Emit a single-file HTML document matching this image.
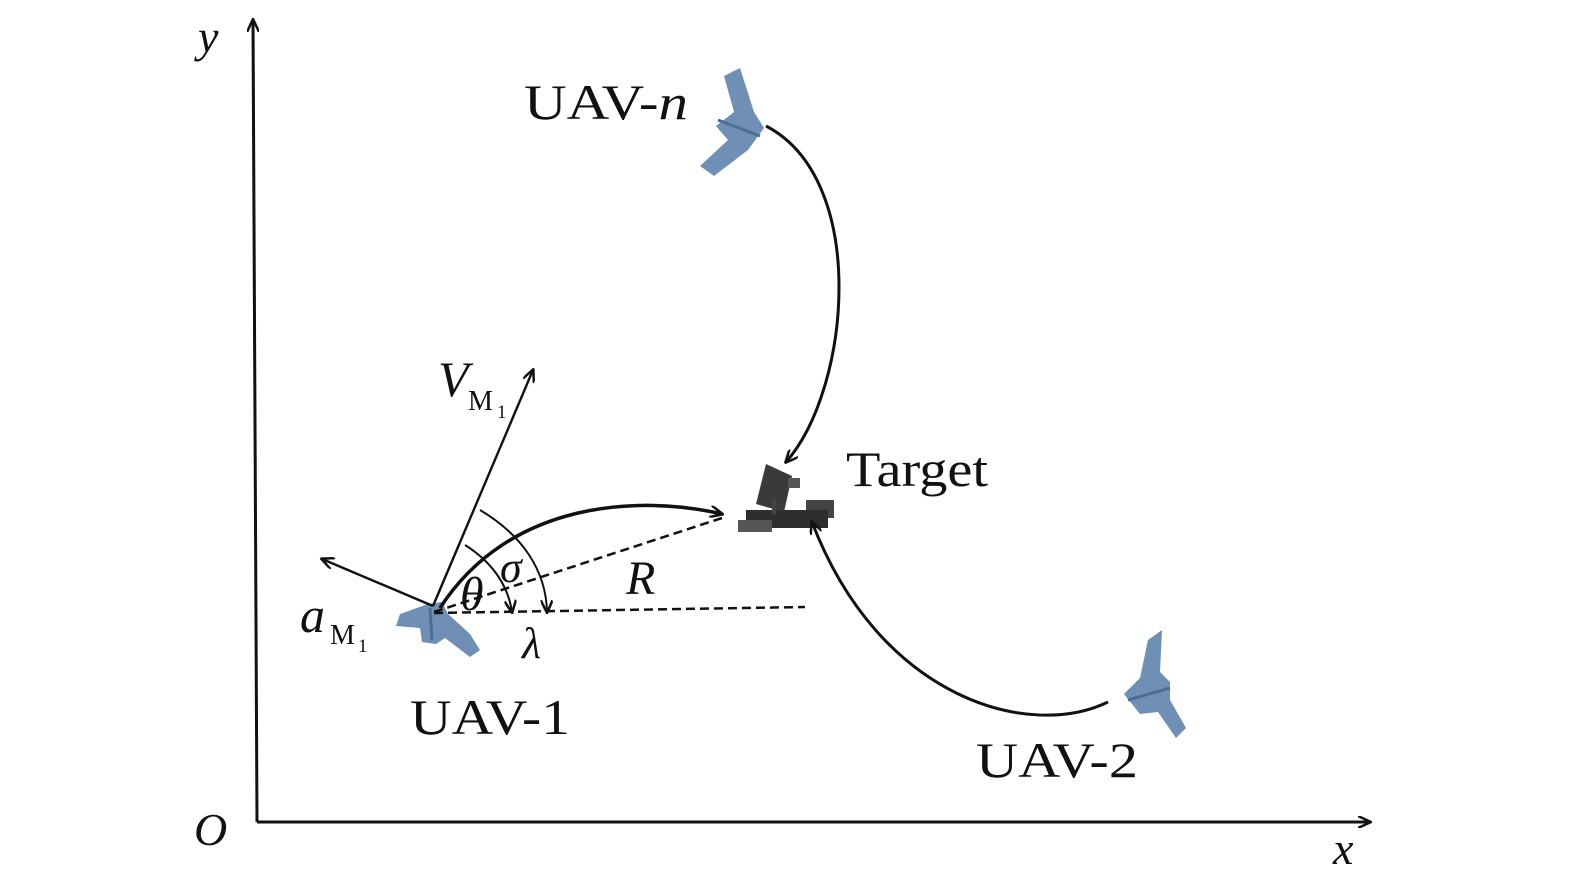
<!DOCTYPE html>
<html><head><meta charset="utf-8"><style>
html,body{margin:0;padding:0;background:#fff;}
svg{display:block;}
text{font-family:"Liberation Serif",serif;fill:#111;}
.i{font-style:italic;}
</style></head><body>
<svg width="1575" height="886" viewBox="0 0 1575 886" xmlns="http://www.w3.org/2000/svg">
<defs>
<marker id="ah" markerWidth="14" markerHeight="12" refX="12" refY="6" orient="auto" markerUnits="userSpaceOnUse">
<path d="M0,0 L13,6 L0,12" fill="none" stroke="#111" stroke-width="2.5"/>
</marker>
</defs>
<!-- axes -->
<line x1="257" y1="822" x2="253" y2="20" stroke="#111" stroke-width="3" marker-end="url(#ah)"/>
<line x1="257" y1="822" x2="1370" y2="822" stroke="#111" stroke-width="3" marker-end="url(#ah)"/>
<text x="198" y="52" font-size="46" class="i">y</text>
<text x="194" y="845" font-size="46" class="i">O</text>
<text x="1333" y="864" font-size="46" class="i">x</text>

<!-- UAV-n -->
<polygon points="724,76 740,68 754,112 764,128 748,150 714,176 700,166 728,140 716,126 734,112" fill="#6f8fb5"/>
<line x1="718" y1="120" x2="760" y2="136" stroke="#4d6d94" stroke-width="3"/>
<!-- UAV-2 -->
<polygon points="1148,640 1162,630 1160,672 1170,682 1170,700 1186,728 1176,738 1158,712 1140,714 1124,694 1140,678" fill="#6f8fb5"/>
<line x1="1128" y1="700" x2="1170" y2="688" stroke="#4d6d94" stroke-width="3"/>
<!-- UAV-1 -->
<polygon points="396,626 400,614 428,604 442,602 448,614 470,634 480,650 470,657 445,638 436,644 422,642 420,628" fill="#6f8fb5"/>
<line x1="430" y1="608" x2="432" y2="640" stroke="#4d6d94" stroke-width="3"/>

<!-- target -->
<g>
<polygon points="766,464 792,476 784,512 756,504" fill="#3a3a3a"/>
<rect x="788" y="478" width="12" height="10" fill="#555"/>
<rect x="806" y="500" width="28" height="18" fill="#444"/>
<rect x="746" y="510" width="82" height="18" fill="#2e2e2e"/>
<rect x="738" y="520" width="34" height="12" fill="#555"/>
<rect x="772" y="498" width="4" height="16" fill="#444"/>
</g>

<!-- curves -->
<path d="M766,126 C870,180 850,390 786,462" fill="none" stroke="#111" stroke-width="3" marker-end="url(#ah)"/>
<path d="M1108,702 C1030,740 880,700 812,522" fill="none" stroke="#111" stroke-width="3" marker-end="url(#ah)"/>
<path d="M440,608 C510,500 640,495 722,514" fill="none" stroke="#111" stroke-width="3.5" marker-end="url(#ah)"/>

<!-- dashed -->
<line x1="434" y1="612" x2="722" y2="518" stroke="#111" stroke-width="2.5" stroke-dasharray="9,5"/>
<line x1="434" y1="613" x2="805" y2="607" stroke="#111" stroke-width="2.5" stroke-dasharray="9,5"/>

<!-- vectors -->
<line x1="433" y1="606" x2="533" y2="370" stroke="#111" stroke-width="2.4" marker-end="url(#ah)"/>
<line x1="433" y1="606" x2="322" y2="559" stroke="#111" stroke-width="2.4" marker-end="url(#ah)"/>

<!-- angle arcs -->
<path d="M465,545 C492,562 508,585 512,612" fill="none" stroke="#111" stroke-width="2" marker-end="url(#ah)"/>
<path d="M480,510 C522,535 546,570 547,612" fill="none" stroke="#111" stroke-width="2" marker-end="url(#ah)"/>

<!-- labels -->
<text x="438" y="396" font-size="50" class="i">V</text>
<text x="468" y="410" font-size="28">M</text><text x="497" y="418" font-size="19">1</text>
<text x="300" y="632" font-size="50" class="i">a</text>
<text x="330" y="644" font-size="28">M</text><text x="358" y="652" font-size="19">1</text>
<text x="460" y="610" font-size="48" class="i">θ</text>
<text x="500" y="582" font-size="44" class="i">σ</text>
<text x="626" y="594" font-size="48" class="i">R</text>
<text x="522" y="658" font-size="44" class="i">λ</text>
<text x="846" y="486" font-size="50" textLength="142" lengthAdjust="spacingAndGlyphs">Target</text>
<text x="524" y="119" font-size="50" textLength="164" lengthAdjust="spacingAndGlyphs">UAV-<tspan class="i">n</tspan></text>
<text x="410" y="734" font-size="50" textLength="160" lengthAdjust="spacingAndGlyphs">UAV-1</text>
<text x="976" y="777" font-size="50" textLength="162" lengthAdjust="spacingAndGlyphs">UAV-2</text>
</svg>
</body></html>
